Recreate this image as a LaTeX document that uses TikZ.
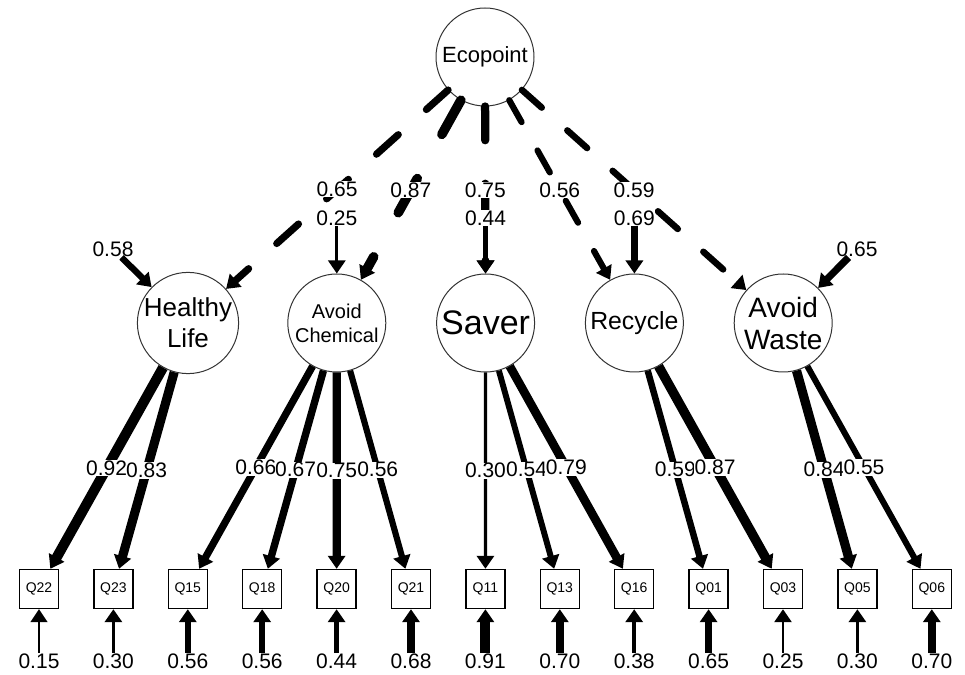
\documentclass[tikz,border=0pt]{standalone}
\usepackage{fontspec}
\setmainfont{Liberation Sans}
\usetikzlibrary{arrows.meta,positioning}

\begin{document}
\begin{tikzpicture}[x=0.5pt,y=0.5pt,
		latent/.style={circle,draw=black!80,line width=0.5pt,minimum size=49pt,inner sep=0pt,align=center},
		manifest/.style={rectangle,draw,line width=0.7pt,minimum size=19.5pt,inner sep=0pt,font=\fontsize{7}{8}\selectfont},
		est/.style={fill=white,inner sep=0.3pt,font=\fontsize{10.5}{12}\selectfont},
		load/.style={-{Triangle[length=6.5pt,width=8.5pt]},line width=#1*5.5pt},
		fixed/.style={load=#1,line cap=round,dash pattern=on #1*22.5pt off #1*29pt}]
	\useasboundingbox (0,0) rectangle (965,675);
	% second order factor and first order factors
	\node[latent,font=\fontsize{11}{12}\selectfont] (eco) at (485,618) {Ecopoint};
	\node[latent,font=\fontsize{13}{15.5}\selectfont] (hl) at (188,352) {Healthy\\Life};
	\node[latent,font=\fontsize{10}{12}\selectfont] (ac) at (336.8,352) {Avoid\\Chemical};
	\node[latent,font=\fontsize{17}{18}\selectfont] (sv) at (485.6,352) {Saver};
	\node[latent,font=\fontsize{12.4}{14}\selectfont] (rc) at (634.4,352) {Recycle};
	\node[latent,font=\fontsize{14}{16}\selectfont] (aw) at (783.2,352) {Avoid\\Waste};
	% items
	\foreach \q [count=\i from 0] in {Q22,Q23,Q15,Q18,Q20,Q21,Q11,Q13,Q16,Q01,Q03,Q05,Q06}
		\node[manifest] (\q) at ({39+74.4*\i},86) {\q};
	% loadings of the items
	\foreach \f/\q/\v in {hl/Q22/0.92,hl/Q23/0.83,ac/Q15/0.66,ac/Q18/0.67,ac/Q20/0.75,ac/Q21/0.56,
			sv/Q11/0.30,sv/Q13/0.54,sv/Q16/0.79,rc/Q01/0.59,rc/Q03/0.87,aw/Q05/0.84,aw/Q06/0.55}
		\draw[load=\v] (\f) -- node[est] {\v} (\q);
	% item residuals
	\foreach \q/\v in {Q22/0.15,Q23/0.30,Q15/0.56,Q18/0.56,Q20/0.44,Q21/0.68,Q11/0.91,
			Q13/0.70,Q16/0.38,Q01/0.65,Q03/0.25,Q05/0.30,Q06/0.70}{
		\node[est,below=22pt of \q] (r\q) {\v};
		\draw[load=\v] (r\q) -- (\q);
	}
	% second order loadings
	\foreach \f/\v in {hl/0.65,ac/0.87,sv/0.75,rc/0.56,aw/0.59}
		\draw[fixed=\v] (eco) -- node[est] {\v} (\f);
	% factor residuals
	\node[est] (rhl) at (113,426) {0.58};
	\node[est] (rac) at (336.8,457) {0.25};
	\node[est] (rsv) at (485.6,457) {0.44};
	\node[est] (rrc) at (634.4,457) {0.69};
	\node[est] (raw) at (857,426) {0.65};
	\foreach \f/\v in {hl/0.58,ac/0.25,sv/0.44,rc/0.69,aw/0.65}
		\draw[load=\v] (r\f) -- (\f);
\end{tikzpicture}
\end{document}
